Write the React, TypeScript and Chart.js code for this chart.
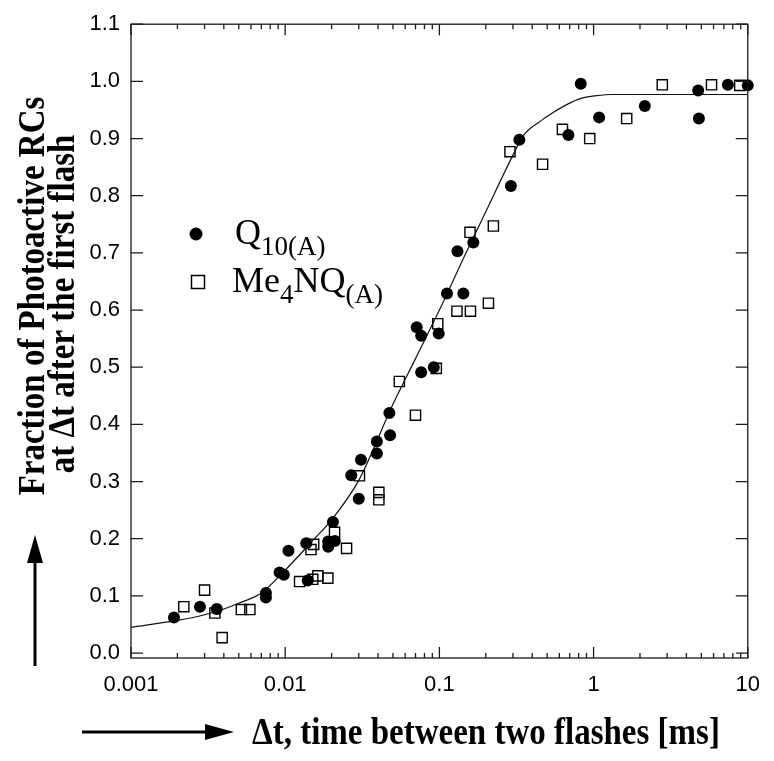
import React, { useEffect, useRef } from 'react';
import { Chart, registerables } from 'chart.js';

Chart.register(...registerables);

// Q10(A) — filled circles
const q10X = [0.0019, 0.0028, 0.0036, 0.0075, 0.0075, 0.0092, 0.0098, 0.0105, 0.0137, 0.014,
  0.019, 0.019, 0.021, 0.0204, 0.0268, 0.030, 0.031, 0.0393, 0.0393, 0.0474,
  0.0479, 0.0713, 0.0762, 0.0762, 0.092, 0.099, 0.112, 0.143, 0.131, 0.166,
  0.291, 0.33, 0.687, 0.826, 1.087, 2.15, 4.77, 4.82, 7.43, 10];
const q10Y = [0.062, 0.081, 0.077, 0.105, 0.097, 0.141, 0.137, 0.179, 0.192, 0.127,
  0.195, 0.186, 0.196, 0.229, 0.311, 0.270, 0.338, 0.370, 0.349, 0.420,
  0.381, 0.570, 0.555, 0.491, 0.500, 0.559, 0.629, 0.629, 0.703, 0.718,
  0.817, 0.898, 0.906, 0.996, 0.937, 0.957, 0.984, 0.935, 0.994, 0.993];

// Me4NQ(A) — open squares
const me4X = [0.0022, 0.0030, 0.0035, 0.0039, 0.0052, 0.0059, 0.0124, 0.0151, 0.0163, 0.0189,
  0.0147, 0.0153, 0.0209, 0.025, 0.0303, 0.0405, 0.0405, 0.055, 0.070, 0.0955,
  0.0976, 0.130, 0.159, 0.208, 0.158, 0.224, 0.287, 0.467, 0.628, 0.944,
  1.64, 2.79, 5.82, 8.87];
const me4Y = [0.081, 0.110, 0.070, 0.027, 0.076, 0.076, 0.125, 0.129, 0.135, 0.131,
  0.181, 0.190, 0.211, 0.183, 0.310, 0.281, 0.268, 0.475, 0.416, 0.498,
  0.576, 0.598, 0.598, 0.612, 0.736, 0.747, 0.877, 0.855, 0.916, 0.900,
  0.935, 0.994, 0.994, 0.993];

// fitted curve
const fitX = [0.001, 0.002, 0.003, 0.004, 0.005, 0.007, 0.01, 0.015, 0.02, 0.03, 0.05, 0.07, 0.1,
  0.15, 0.2, 0.3, 0.35, 0.45, 0.55, 0.7, 0.85, 1.05, 1.3, 2, 5, 10];
const fitY = [0.045, 0.057, 0.067, 0.077, 0.087, 0.105, 0.145, 0.196, 0.233, 0.302, 0.435, 0.515, 0.600,
  0.702, 0.772, 0.871, 0.905, 0.930, 0.946, 0.962, 0.971, 0.975, 0.977, 0.977, 0.977, 0.977];

const xTickValues = [0.001, 0.01, 0.1, 1, 10];
const xTickLabels = ['0.001', '0.01', '0.1', '1', '10'];
const xMinorMultipliers = [2, 3, 4, 5, 6, 7, 8, 9];
const yTickValues = [0, 0.1, 0.2, 0.3, 0.4, 0.5, 0.6, 0.7, 0.8, 0.9, 1.0, 1.1];
const yTickLabels = ['0.0', '0.1', '0.2', '0.3', '0.4', '0.5', '0.6', '0.7', '0.8', '0.9', '1.0', '1.1'];

const xTitle = 'Δt, time between two flashes [ms]';
const yTitleLines = ['Fraction of Photoactive RCs', 'at Δt after the first flash'];
const legendQ10: [string, boolean][] = [['Q', false], ['10(A)', true]];
const legendMe4: [string, boolean][] = [['Me', false], ['4', true], ['NQ', false], ['(A)', true]];

const SERIF = '"Liberation Serif", "Times New Roman", serif';
const SANS = '"Liberation Sans", Arial, sans-serif';

function drawRich(ctx: CanvasRenderingContext2D, parts: [string, boolean][], x: number, y: number) {
  let cx = x;
  for (const [t, sub] of parts) {
    ctx.font = sub ? `27px ${SERIF}` : `36px ${SERIF}`;
    ctx.fillText(t, cx, sub ? y + 11 : y);
    cx += ctx.measureText(t).width;
  }
}

const decorPlugin = {
  id: 'decor',
  afterDraw(chart: any) {
    const { ctx, chartArea: a, scales } = chart;
    const xs = scales.x;
    const ys = scales.y;
    ctx.save();
    // frame
    ctx.strokeStyle = '#1a1a1a';
    ctx.lineWidth = 1.3;
    ctx.strokeRect(a.left, a.top, a.right - a.left, a.bottom - a.top);
    // x ticks (inward, bottom and top)
    ctx.beginPath();
    xTickValues.forEach((v, i) => {
      const px = xs.getPixelForValue(v);
      ctx.moveTo(px, a.bottom); ctx.lineTo(px, a.bottom - 11);
      ctx.moveTo(px, a.top); ctx.lineTo(px, a.top + 11);
      if (i < xTickValues.length - 1) {
        xMinorMultipliers.forEach((m) => {
          const mx = xs.getPixelForValue(v * m);
          ctx.moveTo(mx, a.bottom); ctx.lineTo(mx, a.bottom - 5);
          ctx.moveTo(mx, a.top); ctx.lineTo(mx, a.top + 5);
        });
      }
    });
    // y ticks (inward, left and right)
    yTickValues.forEach((v) => {
      const py = ys.getPixelForValue(v);
      ctx.moveTo(a.left, py); ctx.lineTo(a.left + 12, py);
      ctx.moveTo(a.right, py); ctx.lineTo(a.right - 12, py);
    });
    ctx.stroke();

    ctx.fillStyle = '#000';
    ctx.strokeStyle = '#000';
    // x title
    ctx.save();
    ctx.font = `bold 33px ${SERIF}`;
    ctx.textAlign = 'left';
    ctx.textBaseline = 'alphabetic';
    ctx.translate(252, 744);
    ctx.scale(1, 1.13);
    ctx.fillText(xTitle, 0, 0);
    ctx.restore();
    // x arrow
    ctx.lineWidth = 3;
    ctx.beginPath();
    ctx.moveTo(82, 732); ctx.lineTo(208, 732);
    ctx.stroke();
    ctx.beginPath();
    ctx.moveTo(234, 732); ctx.lineTo(205, 724); ctx.lineTo(205, 740); ctx.closePath();
    ctx.fill();
    // y title (two lines, rotated)
    const yLinePos = [[44, 296], [74, 304]];
    yTitleLines.forEach((line, i) => {
      ctx.save();
      ctx.font = `bold 33px ${SERIF}`;
      ctx.textAlign = 'center';
      ctx.textBaseline = 'alphabetic';
      ctx.translate(yLinePos[i][0], yLinePos[i][1]);
      ctx.rotate(-Math.PI / 2);
      ctx.scale(1, 1.14);
      ctx.fillText(line, 0, 0);
      ctx.restore();
    });
    // y arrow
    ctx.beginPath();
    ctx.moveTo(35, 666); ctx.lineTo(35, 558);
    ctx.stroke();
    ctx.beginPath();
    ctx.moveTo(35, 535); ctx.lineTo(27, 563); ctx.lineTo(43, 563); ctx.closePath();
    ctx.fill();
    // legend
    ctx.beginPath();
    ctx.arc(196, 234, 6.5, 0, Math.PI * 2);
    ctx.fill();
    ctx.lineWidth = 1.5;
    ctx.strokeRect(191.5, 275.5, 13, 13);
    ctx.textAlign = 'left';
    ctx.textBaseline = 'alphabetic';
    drawRich(ctx, legendQ10, 235, 244);
    drawRich(ctx, legendMe4, 232, 292);
    ctx.restore();
  },
};

export default function App() {
  const ref = useRef<HTMLCanvasElement | null>(null);
  useEffect(() => {
    if (!ref.current) return;
    const chart = new Chart(ref.current, {
      type: 'scatter',
      data: {
        datasets: [
          {
            label: 'Q10(A)',
            data: q10X.map((x, i) => ({ x, y: q10Y[i] })),
            pointStyle: 'circle',
            pointRadius: 6,
            pointBackgroundColor: '#000',
            pointBorderColor: '#000',
            pointBorderWidth: 0,
            order: 1,
            clip: false,
          },
          {
            label: 'Me4NQ(A)',
            data: me4X.map((x, i) => ({ x, y: me4Y[i] })),
            pointStyle: 'rect',
            pointRadius: 7.2,
            pointBackgroundColor: 'rgba(255,255,255,0)',
            pointBorderColor: '#000',
            pointBorderWidth: 1.4,
            order: 2,
            clip: false,
          },
          {
            type: 'line',
            label: 'fit',
            data: fitX.map((x, i) => ({ x, y: fitY[i] })),
            borderColor: '#111',
            borderWidth: 1.2,
            pointRadius: 0,
            showLine: true,
            fill: false,
            cubicInterpolationMode: 'monotone',
            order: 3,
          } as any,
        ],
      },
      options: {
        responsive: false,
        maintainAspectRatio: false,
        devicePixelRatio: 1,
        animation: false,
        layout: { padding: { top: 17, right: 25, left: 0, bottom: 0 } },
        plugins: { legend: { display: false }, tooltip: { enabled: false }, title: { display: false } },
        scales: {
          x: {
            type: 'logarithmic',
            min: 0.001,
            max: 10,
            grid: { display: false, drawTicks: false },
            border: { display: false },
            afterBuildTicks: (axis: any) => {
              axis.ticks = xTickValues.map((v) => ({ value: v, major: true }));
            },
            afterFit: (scale: any) => { scale.height = 103; },
            ticks: {
              autoSkip: false,
              maxRotation: 0,
              padding: 14,
              color: '#000',
              font: { family: SANS, size: 22 },
              callback: (v: any) => {
                const i = xTickValues.findIndex((t) => Math.abs(t - Number(v)) < 1e-12);
                return i >= 0 ? xTickLabels[i] : '';
              },
            },
          },
          y: {
            type: 'linear',
            min: -0.0087,
            max: 1.1,
            grid: { display: false, drawTicks: false },
            border: { display: false },
            afterBuildTicks: (axis: any) => {
              axis.ticks = yTickValues.map((v) => ({ value: v }));
            },
            afterFit: (scale: any) => { scale.width = 131; },
            ticks: {
              autoSkip: false,
              padding: 11,
              color: '#000',
              font: { family: SANS, size: 22 },
              callback: (v: any) => {
                const i = yTickValues.findIndex((t) => Math.abs(t - Number(v)) < 1e-9);
                return i >= 0 ? yTickLabels[i] : '';
              },
            },
          },
        },
      },
      plugins: [decorPlugin],
    } as any);
    return () => chart.destroy();
  }, []);
  return (
    <div style={{ position: 'fixed', left: 0, top: 0, width: 774, height: 761, background: '#fff' }}>
      <canvas ref={ref} width={774} height={761} style={{ display: 'block', width: 774, height: 761 }} />
    </div>
  );
}
